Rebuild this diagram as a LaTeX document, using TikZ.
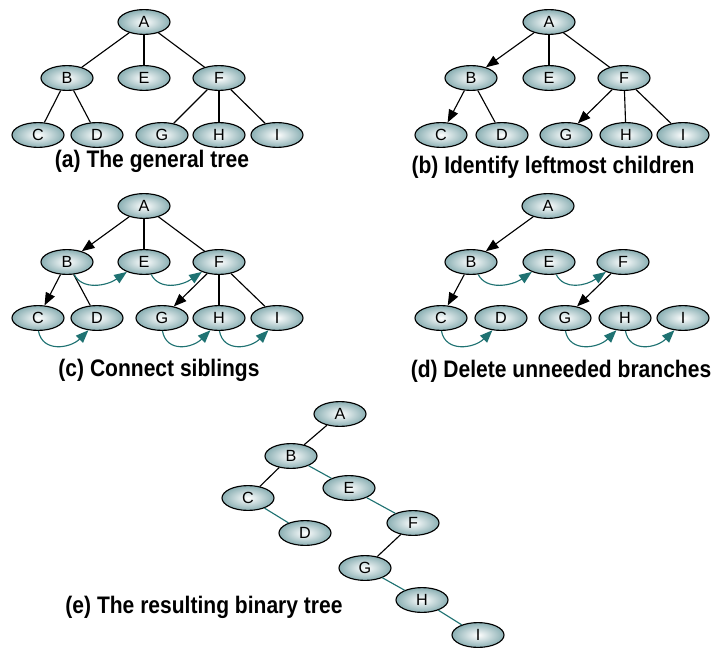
\documentclass[tikz,border=0pt]{standalone}
\usepackage{fontspec}
\setmainfont{Liberation Sans}
\newfontfamily\capfont{Liberation Sans}[FakeStretch=0.88]
\usetikzlibrary{shapes.geometric,arrows.meta}
\definecolor{nodeteal}{HTML}{8AAFB3}
\definecolor{linkteal}{HTML}{1F7272}
\tikzset{
  tnode/.style={ellipse, draw=black, line width=0.8pt, inner color=white,
    outer color=nodeteal, minimum width=1.3cm, minimum height=0.62cm,
    inner sep=0pt, font=\fontsize{11.5}{13}\selectfont},
  edge/.style={line width=0.8pt},
  lmc/.style={line width=0.8pt, -{Triangle[length=9pt,width=7pt]}},
  sib/.style={linkteal, line width=0.8pt, -{Triangle[length=9pt,width=7pt]}},
  bin/.style={linkteal, line width=0.8pt},
  caption/.style={font=\capfont\fontsize{17}{20}\selectfont\bfseries},
}

\begin{document}
\begin{tikzpicture}[x=0.025cm, y=-0.025cm]
  \useasboundingbox (0,0) rectangle (721,649);
  % (a) The general tree
  \foreach \n/\x/\y in {A/144/22, B/67/78, E/144/78, F/219/78, C/38/135,
      D/97/135, G/162/135, H/219/135, I/277/135}
    \node[tnode] (a\n) at (\x,\y) {\n};
  \draw[edge] (aA) -- (aB);
  \draw[edge] (aA) -- (aE);
  \draw[edge] (aA) -- (aF);
  \draw[edge] (aB) -- (aC);
  \draw[edge] (aB) -- (aD);
  \draw[edge] (aF) -- (aG);
  \draw[edge] (aF) -- (aH);
  \draw[edge] (aF) -- (aI);
  \node[caption] (capa) at (152,161) {(a) The general tree};
  % (b) Identify leftmost children
  \foreach \n/\x/\y in {A/549/22, B/471/78, E/549/78, F/624/78, C/441/135,
      D/502/135, G/566/135, H/626/135, I/683/135}
    \node[tnode] (b\n) at (\x,\y) {\n};
  \draw[lmc] (bA) -- (bB);
  \draw[edge] (bA) -- (bE);
  \draw[edge] (bA) -- (bF);
  \draw[lmc] (bB) -- (bC);
  \draw[edge] (bB) -- (bD);
  \draw[lmc] (bF) -- (bG);
  \draw[edge] (bF) -- (bH);
  \draw[edge] (bF) -- (bI);
  \node[caption] (capb) at (553,167) {(b) Identify leftmost children};
  % (c) Connect siblings
  \foreach \n/\x/\y in {A/144/206, B/67/262, E/144/262, F/219/262, C/38/318,
      D/97/318, G/162/318, H/219/318, I/277/318}
    \node[tnode] (c\n) at (\x,\y) {\n};
  \draw[lmc] (cA) -- (cB);
  \draw[edge] (cA) -- (cE);
  \draw[edge] (cA) -- (cF);
  \draw[lmc] (cB) -- (cC);
  \draw[edge] (cB) -- (cD);
  \draw[lmc] (cF) -- (cG);
  \draw[edge] (cF) -- (cH);
  \draw[edge] (cF) -- (cI);
  \draw[sib] (cB.-60) .. controls +(8,16) and +(-20,14) .. (cE.-150);
  \draw[sib] (cE.-60) .. controls +(8,16) and +(-20,14) .. (cF.-150);
  \draw[sib] (cC.-88) .. controls +(4,22) and +(-18,18) .. (cD.-125);
  \draw[sib] (cG.-88) .. controls +(4,22) and +(-18,18) .. (cH.-125);
  \draw[sib] (cH.-88) .. controls +(4,22) and +(-18,18) .. (cI.-125);
  \node[caption] (capc) at (159,370) {(c) Connect siblings};
  % (d) Delete unneeded branches
  \foreach \n/\x/\y in {A/548/206, B/471/262, E/549/262, F/623/262, C/441/318,
      D/501/318, G/565/318, H/625/318, I/683/318}
    \node[tnode] (d\n) at (\x,\y) {\n};
  \draw[lmc] (dA) -- (dB);
  \draw[lmc] (dB) -- (dC);
  \draw[lmc] (dF) -- (dG);
  \draw[sib] (dB.-60) .. controls +(8,16) and +(-20,14) .. (dE.-150);
  \draw[sib] (dE.-60) .. controls +(8,16) and +(-20,14) .. (dF.-150);
  \draw[sib] (dC.-88) .. controls +(4,22) and +(-18,18) .. (dD.-125);
  \draw[sib] (dG.-88) .. controls +(4,22) and +(-18,18) .. (dH.-125);
  \draw[sib] (dH.-88) .. controls +(4,22) and +(-18,18) .. (dI.-125);
  \node[caption] (capd) at (561,371) {(d) Delete unneeded branches};
  % (e) The resulting binary tree
  \foreach \n/\x/\y in {A/340/414, B/291/456, E/349/488, C/248/498, D/305/533,
      F/413/523, G/365/568, H/422/600, I/478/635}
    \node[tnode] (e\n) at (\x,\y) {\n};
  \draw[edge] (eA) -- (eB);
  \draw[edge] (eB) -- (eC);
  \draw[bin] (eB) -- (eE);
  \draw[bin] (eC) -- (eD);
  \draw[bin] (eE) -- (eF);
  \draw[edge] (eF) -- (eG);
  \draw[bin] (eG) -- (eH);
  \draw[bin] (eH) -- (eI);
  \node[caption] (cape) at (204,607) {(e) The resulting binary tree};
\end{tikzpicture}
\end{document}
